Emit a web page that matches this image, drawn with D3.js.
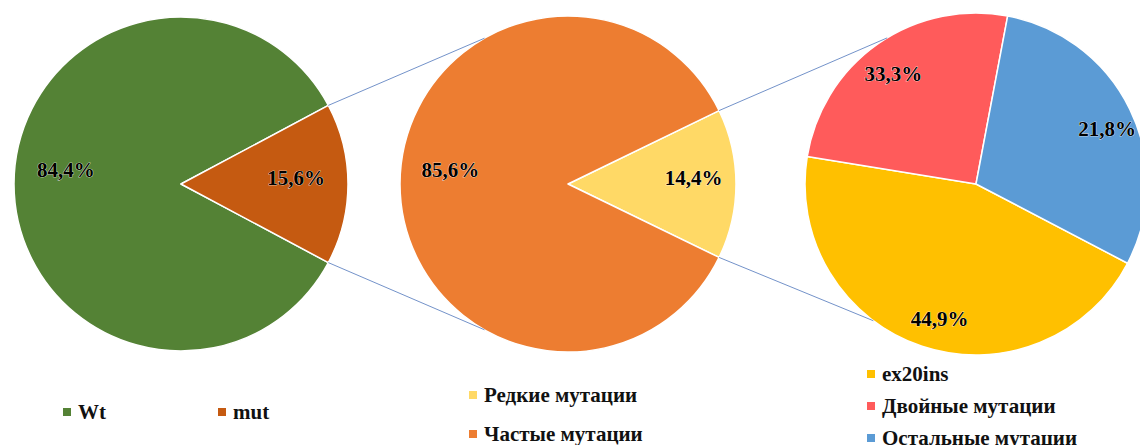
<!DOCTYPE html>
<html>
<head>
<meta charset="utf-8">
<script src="https://cdn.jsdelivr.net/npm/d3@7"></script>
<style>
  html, body { margin: 0; padding: 0; background: #fff; }
  svg { display: block; }
  text { font-family: "Liberation Serif", "DejaVu Serif", serif; font-weight: bold; }
</style>
</head>
<body>
<svg id="chart"></svg>
<script>
const width = 1140;
const height = 445;

// pie 1: all cases
const mainCats = ["Wt", "mut"];
const mainVals = [84.4, 15.6];
const mainColors = ["#548235", "#c55a11"];

// pie 2: split of "mut"
const mutCats = ["Редкие мутации", "Частые мутации"];
const mutVals = [14.4, 85.6];
const mutColors = ["#ffd966", "#ed7d31"];

// pie 3: split of "Частые мутации" (slice sizes, printed labels kept as shown)
const freqCats = ["ex20ins", "Двойные мутации", "Остальные мутации"];
const freqVals = [44.9, 25.4, 29.7];
const freqLabels = ["44,9%", "33,3%", "21,8%"];
const freqColors = ["#ffc000", "#ff5b5b", "#5b9bd5"];

const deg = Math.PI / 180;
const fmt = v => d3.format(".1f")(v).replace(".", ",") + "%";

const svg = d3.select("#chart")
    .attr("width", width)
    .attr("height", height)
    .attr("viewBox", [0, 0, width, height]);

// start angle so that slice `idx` is centred on 3 o'clock
function startFor(vals, idx) {
    const total = d3.sum(vals);
    const before = d3.sum(vals.slice(0, idx));
    const frac = vals[idx] / total;
    return Math.PI / 2 - (before / total) * 2 * Math.PI - frac * Math.PI;
}

function drawPie(cfg) {
    const pie = d3.pie().sort(null).value(d => d)
        .startAngle(cfg.start).endAngle(cfg.start + 2 * Math.PI);
    const arcs = pie(cfg.vals);
    const arc = d3.arc().innerRadius(0).outerRadius(cfg.r);
    const g = svg.append("g").attr("transform", `translate(${cfg.cx},${cfg.cy})`);
    g.selectAll("path")
        .data(arcs)
        .join("path")
        .attr("d", arc)
        .attr("fill", (d, i) => cfg.colors[i])
        .attr("stroke", "#fff")
        .attr("stroke-width", 1.5)
        .attr("stroke-linejoin", "round");
    const labelArc = d3.arc().innerRadius(cfg.r * cfg.lr).outerRadius(cfg.r * cfg.lr);
    g.selectAll("text")
        .data(arcs)
        .join("text")
        .attr("transform", (d, i) => {
            const [x, y] = labelArc.centroid(d);
            const [nx, ny] = cfg.nudge[i];
            return `translate(${x + nx},${y + ny})`;
        })
        .attr("text-anchor", "middle")
        .attr("dy", "0.35em")
        .attr("font-size", 21)
        .attr("fill", "#000")
        .attr("stroke", "#fff")
        .attr("stroke-width", 0.6)
        .attr("paint-order", "stroke")
        .text((d, i) => cfg.labels[i]);
    return arcs;
}

const p1 = {cx: 181, cy: 184, r: 167, vals: mainVals, colors: mainColors,
    labels: mainVals.map(fmt), start: startFor(mainVals, 1), lr: 0.69,
    nudge: [[0, -14], [0, -6]]};
const p2 = {cx: 568, cy: 184, r: 168, vals: mutVals, colors: mutColors,
    labels: mutVals.map(fmt), start: startFor(mutVals, 0), lr: 0.7,
    nudge: [[8, -6], [0, -14]]};
const p3 = {cx: 976, cy: 184, r: 171, vals: freqVals, colors: freqColors,
    labels: freqLabels, start: 117.6 * deg, lr: 0.82,
    nudge: [[8, 2], [-2, 4], [5, 6]]};

const lines = svg.append("g");
const a1 = drawPie(p1);
const a2 = drawPie(p2);
drawPie(p3);

const onCircle = (p, a) => [p.cx + p.r * Math.sin(a), p.cy - p.r * Math.cos(a)];

// connector lines from the split slice to the next pie
function connect(from, slice, to, aTop, aBot) {
    const s0 = onCircle(from, slice.startAngle);
    const s1 = onCircle(from, slice.endAngle);
    const top = s0[1] < s1[1] ? s0 : s1;
    const bot = s0[1] < s1[1] ? s1 : s0;
    [[top, onCircle(to, aTop * deg)], [bot, onCircle(to, aBot * deg)]].forEach(([a, b]) => {
        lines.append("line")
            .attr("x1", a[0]).attr("y1", a[1])
            .attr("x2", b[0]).attr("y2", b[1])
            .attr("stroke", "#5b7fc0")
            .attr("stroke-opacity", 0.85)
            .attr("stroke-width", 1);
    });
}
connect(p1, a1[1], p2, 330.2, 209.8);
connect(p2, a2[0], p3, 328.7, 216.9);
lines.raise();

// legends
function legend(items, colors, x0, y0, dx, dy) {
    const g = svg.append("g");
    items.forEach((t, i) => {
        const x = x0 + dx * i;
        const y = y0 + dy * i;
        g.append("rect")
            .attr("x", x).attr("y", y - 11)
            .attr("width", 8).attr("height", 8)
            .attr("fill", colors[i]);
        g.append("text")
            .attr("x", x + 15).attr("y", y)
            .attr("font-size", 21)
            .attr("fill", "#111")
            .text(t);
    });
}
legend(mainCats, mainColors, 63, 419, 155, 0);
legend(mutCats, mutColors, 469, 402, 0, 39);
legend(freqCats, freqColors, 867, 381, 0, 32);
</script>
</body>
</html>
